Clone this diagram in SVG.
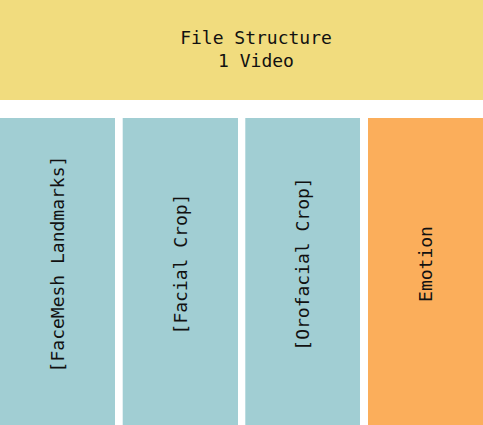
<svg xmlns="http://www.w3.org/2000/svg" width="483" height="425" viewBox="0 0 483 425">
<style>
text{font-family:"DejaVu Sans Mono","Liberation Mono",monospace;font-size:18px;fill:#111;text-anchor:middle}
.top{fill:#f1dc7e}
.col{fill:#a1ced3}
.emo{fill:#fbae5b}
</style>
<rect width="483" height="425" fill="#ffffff"/>
<g id="file-structure">
<rect class="top" x="0" y="0" width="483" height="100"/>
<text x="256" y="44">File Structure</text>
<text x="256" y="67">1 Video</text>
</g>
<g id="facemesh">
<rect class="col" x="0" y="118" width="115" height="307"/>
<text transform="translate(57,264) rotate(-90)" dominant-baseline="central">[FaceMesh Landmarks]</text>
</g>
<g id="facial-crop">
<rect class="col" x="122.7" y="118" width="115.3" height="307"/>
<text transform="translate(180,264) rotate(-90)" dominant-baseline="central">[Facial Crop]</text>
</g>
<g id="orofacial-crop">
<rect class="col" x="245.3" y="118" width="114.7" height="307"/>
<text transform="translate(302.5,264) rotate(-90)" dominant-baseline="central">[Orofacial Crop]</text>
</g>
<g id="emotion">
<rect class="emo" x="368" y="118" width="115" height="307"/>
<text transform="translate(425,264) rotate(-90)" dominant-baseline="central">Emotion</text>
</g>
<g id="connectors"></g>
</svg>
